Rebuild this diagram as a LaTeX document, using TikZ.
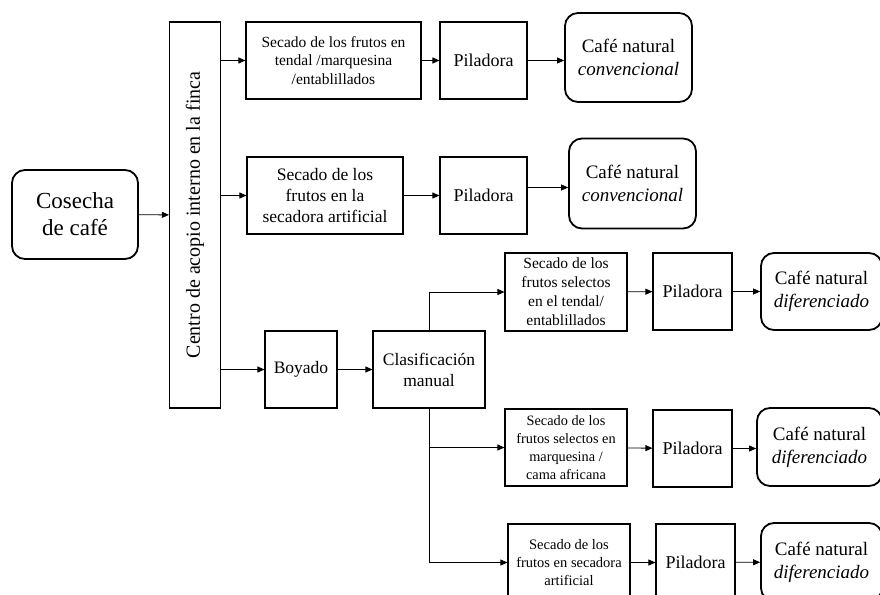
\documentclass[tikz,border=0pt]{standalone}
\usepackage{fontspec}
\setmainfont{Liberation Serif}
\usetikzlibrary{arrows.meta}

\newcommand{\fsz}[2]{\fontsize{#1}{#2}\selectfont}

\begin{document}
\begin{tikzpicture}[x=1pt, y=-1pt, ->, >={Triangle[length=7pt, width=6pt]}, line width=0.8pt,
    caja/.style={draw, line width=1.1pt, align=center, inner sep=0pt},
    final/.style={draw, line width=1.8pt, rounded corners=13pt, align=center, inner sep=0pt},
    chico/.style={font=\fsz{15.5}{18.5}},
    medio/.style={font=\fsz{17.5}{21}},
    pila/.style={caja, font=\fsz{18}{21}, minimum height=77},
    cafe/.style={final, font=\fsz{19}{23}}]
    \useasboundingbox (0,0) rectangle (880,594);

    \node[final, minimum width=126, minimum height=89, font=\fsz{23}{27}] (cosecha) at (75,214.5) {Cosecha\\de café};
    \node[caja, minimum width=51, minimum height=386] (centro) at (195,215) {\rotatebox{90}{\fsz{20}{24}Centro de acopio interno en la finca}};

    % rama convencional
    \node[caja, chico, minimum width=175, minimum height=77] (secado1) at (333.5,60.5) {Secado de los frutos en\\tendal /marquesina\\/entablillados};
    \node[pila, minimum width=87] (pila1) at (483.5,60.5) {Piladora};
    \node[cafe, minimum width=127, minimum height=89] (cafe1) at (628.5,57.5) {Café natural\\\textit{convencional}};

    \node[caja, medio, minimum width=156, minimum height=77] (secado2) at (325,195.5) {Secado de los\\frutos en la\\secadora artificial};
    \node[pila, minimum width=87] (pila2) at (483.5,195.5) {Piladora};
    \node[cafe, minimum width=127, minimum height=90] (cafe2) at (632.5,183.5) {Café natural\\\textit{convencional}};

    % rama diferenciada
    \node[caja, medio, minimum width=72, minimum height=77] (boyado) at (301,369.5) {Boyado};
    \node[caja, medio, minimum width=112, minimum height=77] (clasif) at (429,369.5) {Clasificación\\manual};

    \node[caja, font=\fsz{15.5}{19}, minimum width=122, minimum height=78] (selecto1) at (566,292) {Secado de los\\frutos selectos\\en el tendal/\\entablillados};
    \node[pila, minimum width=79] (pila3) at (692.5,291.5) {Piladora};
    \node[cafe, minimum width=121, minimum height=77] (cafe3) at (821.5,291.5) {Café natural\\\textit{diferenciado}};

    \node[caja, font=\fsz{14.3}{18}, minimum width=122, minimum height=77] (selecto2) at (566,447.5) {Secado de los\\frutos selectos en\\marquesina /\\cama africana};
    \node[pila, minimum width=79] (pila4) at (692.5,448.5) {Piladora};
    \node[cafe, minimum width=125, minimum height=78] (cafe4) at (819.5,447) {Café natural\\\textit{diferenciado}};

    \node[caja, font=\fsz{14.5}{18}, minimum width=122, minimum height=77] (selecto3) at (569,562.5) {Secado de los\\frutos en secadora\\artificial};
    \node[pila, minimum width=79] (pila5) at (695.5,562.5) {Piladora};
    \node[cafe, minimum width=121, minimum height=78] (cafe5) at (821.5,562) {Café natural\\\textit{diferenciado}};

    % conexiones
    \draw (cosecha) -- (centro);
    \draw (centro.east |- secado1.west) -- (secado1.west);
    \draw (secado1) -- (pila1);
    \draw (pila1.east) -- (pila1.east -| cafe1.west);
    \draw (centro.east |- secado2.west) -- (secado2.west);
    \draw (secado2) -- (pila2);
    \draw ([yshift=8pt]pila2.east) -- ([yshift=8pt]pila2.east -| cafe2.west);
    \draw (centro.east |- boyado.west) -- (boyado.west);
    \draw (boyado) -- (clasif);
    \draw (clasif.north) |- (selecto1.west);
    \draw (clasif.south) |- (selecto2.west);
    \draw (clasif.south) |- (selecto3.west);
    \draw (selecto1) -- (pila3);
    \draw (pila3) -- (cafe3);
    \draw (selecto2) -- (pila4);
    \draw (pila4.east) -- (pila4.east -| cafe4.west);
    \draw (selecto3) -- (pila5);
    \draw (pila5) -- (cafe5);
\end{tikzpicture}
\end{document}
